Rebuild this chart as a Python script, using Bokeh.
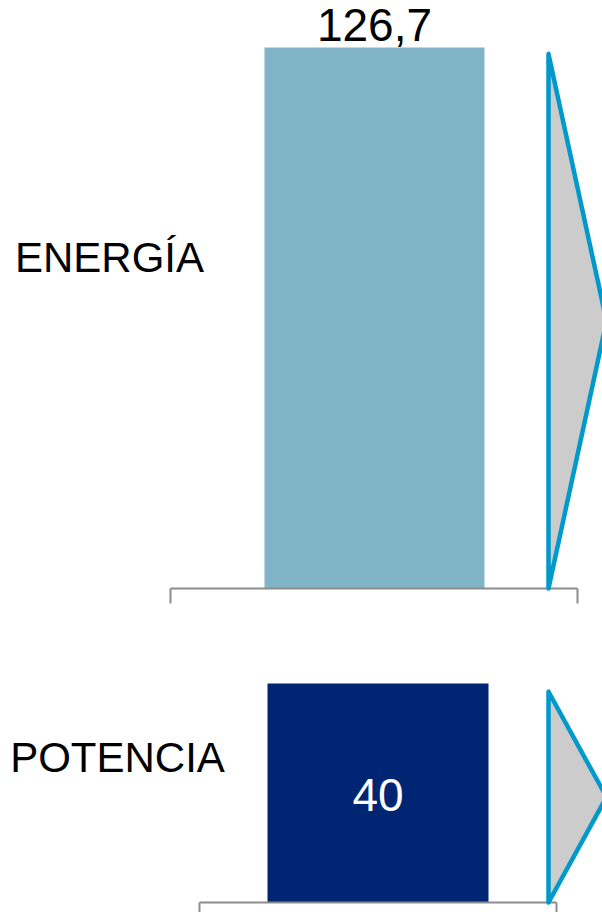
from bokeh.plotting import figure
from bokeh.models import Range1d, Label, ColumnDataSource
from bokeh.layouts import column
from bokeh.core.properties import value
from bokeh.embed import file_html
from bokeh.resources import INLINE

# ---- data ----
categories = ["ENERGÍA", "POTENCIA"]
values = [126.7, 40]
value_labels = ["126,7", "40"]
bar_colors = ["#82B4C8", "#002673"]

FONT = "Liberation Sans"
W = 602

# layout per panel (styling / positions)
panels = [
    dict(height=640, baseline_px=588, top_px=47, bar_x=374, bar_w=220,
         axis_x0=170, axis_x1=577, label_y=383, label_x=109,
         val_inside=False, val_size="46px", val_color="black", val_off=-22.5),
    dict(height=272, baseline_px=262, top_px=43, bar_x=377.5, bar_w=221,
         axis_x0=199, axis_x1=556, label_y=155, label_x=117,
         val_inside=True, val_size="46px", val_color="white", val_off=1.5),
]

figs = []
for i, cfg in enumerate(panels):
    v = values[i]
    ppu = (cfg["baseline_px"] - cfg["top_px"]) / v  # pixels per unit
    y_top = cfg["baseline_px"] / ppu
    y_bot = -(cfg["height"] - cfg["baseline_px"]) / ppu
    p = figure(width=W, height=cfg["height"], x_range=Range1d(0, W),
               y_range=Range1d(y_bot, y_top), output_backend="svg",
               toolbar_location=None, min_border=0,
               x_axis_location=None, y_axis_location=None)
    p.outline_line_color = None
    p.xgrid.visible = False
    p.ygrid.visible = False
    p.background_fill_color = "white"
    p.border_fill_color = "white"

    src = ColumnDataSource(dict(x=[cfg["bar_x"]], top=[v], lab=[value_labels[i]],
                                ly=[v / 2 if cfg["val_inside"] else v]))
    p.vbar(x="x", top="top", bottom=0, width=cfg["bar_w"], source=src,
           fill_color=bar_colors[i], line_color=None)

    # baseline axis with end ticks
    tick = 15 / ppu
    p.segment(x0=[cfg["axis_x0"], cfg["axis_x0"], cfg["axis_x1"]],
              y0=[0, 0, 0],
              x1=[cfg["axis_x1"], cfg["axis_x0"], cfg["axis_x1"]],
              y1=[0, -tick, -tick],
              line_color="#8C8C8C", line_width=2)

    # arrow triangle
    a_top = v - 1.5
    p.patch(x=[548, 548, 606], y=[a_top, 0, a_top / 2],
            fill_color="#CCCCCC", line_color="#0099CC", line_width=4.5,
            line_join="round")

    # value label
    p.text(x="x", y="ly", text="lab", source=src, text_font=value(FONT),
           text_font_size=cfg["val_size"], text_color=cfg["val_color"],
           text_align="center", text_baseline="middle",
           y_offset=cfg["val_off"])

    # category label
    p.add_layout(Label(x=cfg["label_x"], y=cfg["label_y"], x_units="screen",
                       y_units="screen", text=categories[i], text_font=FONT,
                       text_font_size="42px", text_color="black",
                       text_align="center", text_baseline="alphabetic"))
    figs.append(p)

layout = column(*figs, spacing=0)
open("out.html", "w").write(file_html(layout, INLINE))
